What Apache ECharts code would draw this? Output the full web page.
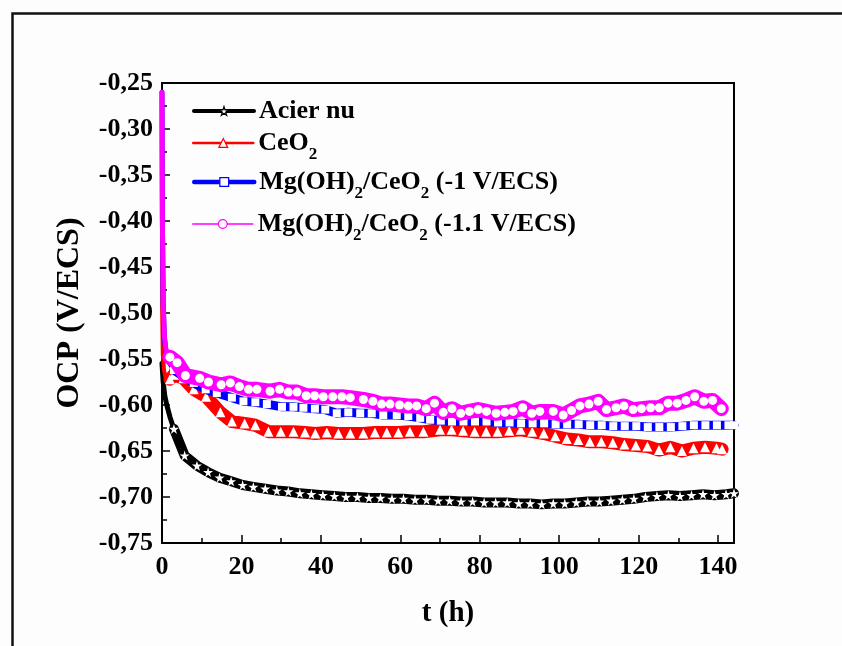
<!DOCTYPE html>
<html>
<head>
<meta charset="utf-8">
<script src="https://cdn.jsdelivr.net/npm/echarts@6/dist/echarts.min.js"></script>
<style>
html,body{margin:0;padding:0;background:#fdfdfd;}
#c{width:842px;height:646px;}
</style>
</head>
<body>
<div id="c"></div>
<script>
// ---- data (t in hours, OCP in V/ECS) ----
var acierT = [0, 0.3, 0.7, 1.2, 2, 3, 5.7, 8.8, 11.6, 14.5, 17.4, 20.3, 23, 26, 28.9, 31.8, 34.7, 37.6, 40.5, 43.4, 46.3, 49.2, 52.1, 55, 57.9, 60.8, 63.7, 66.6, 69.5, 72.4, 75.3, 78.2, 81.1, 84, 86.9, 89.8, 92.7, 95.6, 98.5, 101.4, 104.3, 107.2, 110.1, 113, 115.9, 118.8, 121.7, 124.6, 127.5, 130.4, 133.3, 136.2, 139.1, 142, 144];
var acierV = [-0.555, -0.575, -0.59, -0.600, -0.613, -0.626, -0.655, -0.666, -0.673, -0.679, -0.683, -0.687, -0.689, -0.691, -0.693, -0.694, -0.696, -0.697, -0.698, -0.699, -0.700, -0.700, -0.701, -0.701, -0.702, -0.702, -0.703, -0.703, -0.704, -0.704, -0.705, -0.705, -0.706, -0.706, -0.706, -0.707, -0.707, -0.708, -0.707, -0.707, -0.706, -0.705, -0.705, -0.704, -0.703, -0.702, -0.700, -0.699, -0.698, -0.699, -0.698, -0.697, -0.698, -0.697, -0.696];

var ceoT = [0, 0.05, 0.2, 0.5, 1, 2, 3, 5.4, 8, 11.1, 14.7, 17.6, 20.8, 23.5, 26.8, 29.9, 33.1, 36, 38.6, 41.5, 44.4, 47.4, 50.7, 53.6, 56.6, 59.5, 62.4, 65.8, 70, 72.9, 75.8, 78.7, 81.6, 84.5, 87.4, 90.3, 93.2, 96.1, 99, 101.9, 104.8, 107.7, 110.6, 113.5, 116.4, 119.3, 122.2, 125.1, 128, 130.9, 133.8, 136.7, 139.6, 141];
var ceoV = [-0.30, -0.50, -0.545, -0.562, -0.572, -0.572, -0.567, -0.571, -0.583, -0.591, -0.608, -0.618, -0.620, -0.622, -0.629, -0.629, -0.629, -0.630, -0.631, -0.630, -0.631, -0.631, -0.631, -0.630, -0.630, -0.630, -0.629, -0.629, -0.627, -0.627, -0.628, -0.629, -0.629, -0.629, -0.628, -0.627, -0.629, -0.631, -0.634, -0.637, -0.638, -0.640, -0.640, -0.641, -0.643, -0.644, -0.645, -0.649, -0.646, -0.650, -0.647, -0.646, -0.647, -0.648];

var mg1T = [0, 0.1, 0.3, 0.6, 1, 2, 3, 5.4, 8, 11, 13.8, 17.6, 20.5, 23.5, 26.4, 30.2, 33.1, 35.6, 38.5, 41.1, 44, 46.9, 49.9, 52.8, 55.7, 59.1, 62, 65, 67.5, 70.2, 73, 75.9, 78.8, 81.7, 84.6, 87.5, 90.4, 93.3, 96.2, 99.1, 102, 104.9, 107.8, 110.7, 113.6, 116.5, 119.4, 122.3, 125.2, 128.1, 131, 133.9, 136.8, 139.7, 142.6, 144];
var mg1V = [-0.26, -0.40, -0.49, -0.527, -0.542, -0.555, -0.562, -0.569, -0.576, -0.583, -0.587, -0.592, -0.596, -0.597, -0.599, -0.602, -0.602, -0.603, -0.604, -0.605, -0.609, -0.608, -0.609, -0.609, -0.611, -0.611, -0.612, -0.614, -0.616, -0.617, -0.618, -0.618, -0.618, -0.618, -0.619, -0.619, -0.620, -0.620, -0.620, -0.621, -0.621, -0.621, -0.622, -0.622, -0.623, -0.623, -0.623, -0.624, -0.624, -0.624, -0.623, -0.622, -0.622, -0.622, -0.622, -0.622];

var mg2T = [0, 0.1, 0.3, 0.6, 1, 2, 3.8, 5.9, 9.5, 11.7, 14.9, 17.2, 19.5, 21.8, 23.9, 27.2, 29.6, 31.8, 34, 36.3, 38.4, 40.6, 43, 45.3, 47.4, 50.7, 53.1, 55.3, 57.4, 59.8, 62, 64.1, 66.5, 68.6, 70.8, 73, 75.2, 77.4, 79.6, 81.7, 84.1, 86.3, 88.4, 90.8, 93.1, 95.1, 98.5, 101, 103.1, 105.2, 107.5, 109.8, 111.9, 114.3, 116.3, 118.6, 120.7, 123, 125.2, 127.4, 129.7, 131.9, 134.1, 136.4, 138.6, 140.8];
var mg2V = [-0.26, -0.40, -0.49, -0.525, -0.540, -0.548, -0.554, -0.568, -0.571, -0.575, -0.578, -0.576, -0.580, -0.583, -0.583, -0.585, -0.583, -0.586, -0.586, -0.590, -0.590, -0.591, -0.591, -0.591, -0.592, -0.594, -0.596, -0.599, -0.599, -0.600, -0.601, -0.601, -0.604, -0.598, -0.608, -0.604, -0.609, -0.607, -0.605, -0.607, -0.609, -0.608, -0.607, -0.603, -0.609, -0.607, -0.607, -0.611, -0.606, -0.601, -0.599, -0.596, -0.605, -0.603, -0.601, -0.605, -0.604, -0.603, -0.603, -0.598, -0.598, -0.595, -0.591, -0.596, -0.595, -0.604];

var names = ['Acier nu', 'CeO2', 'Mg(OH)2/CeO2 (-1 V/ECS)', 'Mg(OH)2/CeO2 (-1.1 V/ECS)'];
var xTicks = [0, 20, 40, 60, 80, 100, 120, 140];
var yTicks = [-0.75, -0.70, -0.65, -0.60, -0.55, -0.50, -0.45, -0.40, -0.35, -0.30, -0.25];

function zip(t, v) { return t.map(function (x, i) { return [x, v[i]]; }); }

var FONT = 'Liberation Serif';
var STAR = 'path://M50,0 L61,35 L98,35 L68,57 L79,91 L50,70 L21,91 L32,57 L2,35 L39,35 Z';

var chart = echarts.init(document.getElementById('c'), null, {renderer: 'canvas'});

// body: noisy part drawn as a thick band with white markers; head: steep initial drop drawn thin
function mkBody(name, t, v, cut, color, width, symbol, size, z) {
  var d = zip(t, v).filter(function (p) { return p[0] >= cut; });
  return {
    type: 'line', name: name, data: d, z: z,
    symbol: symbol, symbolSize: size, showAllSymbol: true,
    lineStyle: {color: color, width: width, join: 'round', cap: 'round'},
    itemStyle: {color: '#fff', borderColor: color, borderWidth: 0},
    emphasis: {disabled: true}, clip: true, animation: false
  };
}
function mkHead(name, t, v, cut, color, width, z) {
  var d = zip(t, v).filter(function (p) { return p[0] <= cut; });
  return {
    type: 'line', name: name, data: d, z: z, symbol: 'none',
    lineStyle: {color: color, width: width, join: 'round', cap: 'round'},
    itemStyle: {color: color},
    emphasis: {disabled: true}, clip: true, animation: false
  };
}

function richLabel(name) {
  return '{m|' + name.replace(/2/g, '}{sub|2}{m|') + '}';
}

function mkLegend(name, top, lw, color) {
  return {
    data: [{name: name, itemStyle: {color: '#fff', borderColor: color, borderWidth: 1.2}}],
    left: 192, top: top, orient: 'vertical',
    itemWidth: 60, itemHeight: 11, padding: 0,
    lineStyle: {width: lw},
    selectedMode: false,
    formatter: richLabel,
    textStyle: {
      rich: {
        m: {fontFamily: FONT, fontWeight: 'bold', fontSize: 26, color: '#000', lineHeight: 40, verticalAlign: 'middle'},
        sub: {fontFamily: FONT, fontWeight: 'bold', fontSize: 17, color: '#000', lineHeight: 17, verticalAlign: 'bottom'}
      }
    }
  };
}

var option = {
  backgroundColor: '#fdfdfd',
  animation: false,
  grid: {left: 162, top: 83, width: 572, height: 460, show: true, borderColor: '#000', borderWidth: 2, backgroundColor: 'transparent'},
  xAxis: {
    type: 'value', min: 0, max: 144, interval: 20,
    name: 't (h)', nameLocation: 'middle', nameGap: 56,
    nameTextStyle: {fontFamily: FONT, fontWeight: 'bold', fontSize: 29, color: '#000'},
    axisLine: {lineStyle: {color: '#000', width: 2}},
    axisTick: {inside: true, length: 8, lineStyle: {color: '#000', width: 1.5}},
    minorTick: {show: true, splitNumber: 2, length: 5, lineStyle: {color: '#000', width: 1.5}},
    splitLine: {show: false},
    axisLabel: {fontFamily: FONT, fontWeight: 'bold', fontSize: 26, color: '#000', margin: 11, showMaxLabel: false,
      formatter: function (v) { return xTicks.indexOf(v) >= 0 ? String(v) : ''; }}
  },
  yAxis: {
    type: 'value', min: -0.75, max: -0.25, interval: 0.05,
    name: 'OCP (V/ECS)', nameLocation: 'middle', nameGap: 76,
    nameTextStyle: {fontFamily: FONT, fontWeight: 'bold', fontSize: 32, color: '#000'},
    axisLine: {lineStyle: {color: '#000', width: 2}},
    axisTick: {inside: true, length: 8, lineStyle: {color: '#000', width: 1.5}},
    minorTick: {show: true, splitNumber: 2, length: 5, lineStyle: {color: '#000', width: 1.5}},
    splitLine: {show: false},
    axisLabel: {fontFamily: FONT, fontWeight: 'bold', fontSize: 26, color: '#000', margin: 9,
      formatter: function (v) {
        var k = yTicks.findIndex(function (y) { return Math.abs(y - v) < 1e-9; });
        return k >= 0 ? yTicks[k].toFixed(2).replace('.', ',') : '';
      }}
  },
  legend: [
    mkLegend(names[0], 109 - 11, 4, '#000000'),
    mkLegend(names[1], 141 - 11, 2.5, '#ff0000'),
    mkLegend(names[2], 180 - 11, 4.5, '#0000ff'),
    mkLegend(names[3], 222 - 11, 1.5, '#ff00ff')
  ],
  graphic: [{
    type: 'rect', left: 10, top: 11, silent: true,
    shape: {width: 900, height: 800},
    style: {fill: 'none', stroke: '#111', lineWidth: 2.5}
  }],
  series: [
    mkBody(names[0], acierT, acierV, 3, '#000000', 10, STAR, 10, 2),
    mkBody(names[1], ceoT, ceoV, 2, '#ff0000', 13, 'triangle', 10, 3),
    mkBody(names[2], mg1T, mg1V, 3, '#0000ff', 9, 'rect', 8, 4),
    mkBody(names[3], mg2T, mg2V, 2, '#ff00ff', 15, 'circle', 9, 5),
    mkHead(names[0], acierT, acierV, 3, '#000000', 5, 2),
    mkHead(names[1], ceoT, ceoV, 2, '#ff0000', 4, 3),
    mkHead(names[2], mg1T, mg1V, 3, '#0000ff', 5, 4),
    mkHead(names[3], mg2T, mg2V, 2, '#ff00ff', 5, 5)
  ]
};
chart.setOption(option);
</script>
</body>
</html>
